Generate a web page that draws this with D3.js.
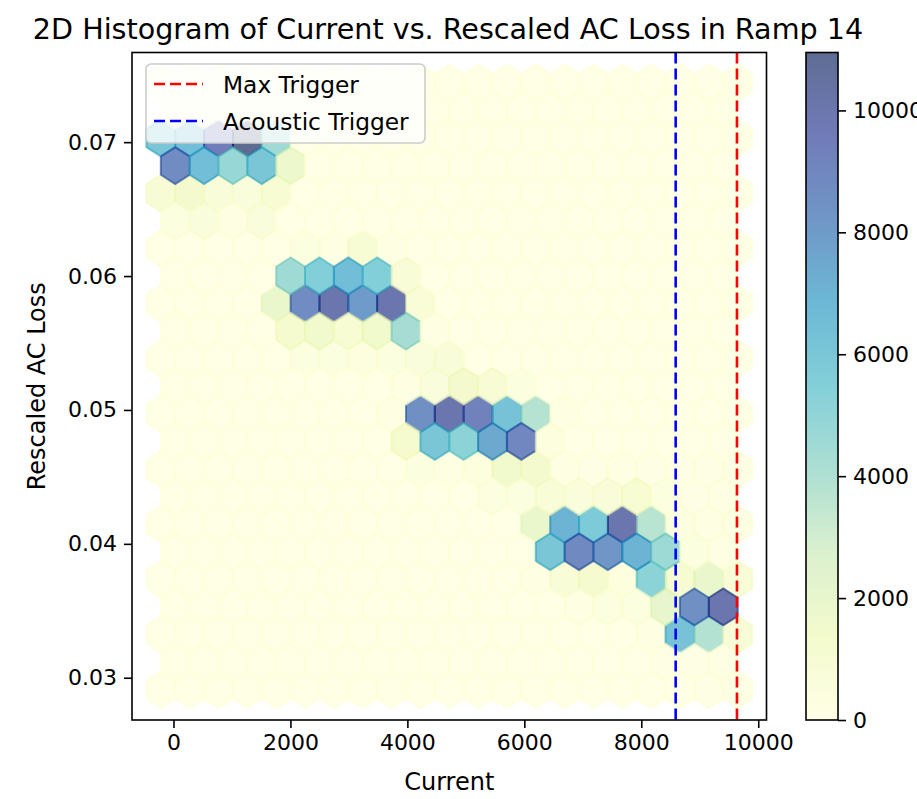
<!DOCTYPE html>
<html>
<head>
<meta charset="utf-8">
<script src="https://cdn.jsdelivr.net/npm/d3@7"></script>
<style>
  body { margin: 0; background: #fff; }
  svg text { font-family: "DejaVu Sans", sans-serif; fill: #000; }
</style>
</head>
<body>
<div id="chart"></div>
<script>
// Hexbin counts, rows listed top to bottom.
// Full lattice: 21 cells per row (x = xmin + i*sx)
const fullRows = [
  [150, 200, 200, 100, 0, 0, 0, 0, 0, 0, 0, 0, 0, 0, 0, 0, 0, 0, 0, 0, 0],
  [6000, 6500, 9500, 10950, 4500, 0, 0, 0, 0, 0, 0, 0, 0, 0, 0, 0, 0, 0, 0, 0, 0],
  [900, 1300, 700, 600, 1000, 0, 0, 0, 0, 0, 0, 0, 0, 0, 0, 0, 0, 0, 0, 0, 0],
  [0, 0, 0, 0, 0, 300, 250, 900, 200, 0, 0, 0, 0, 0, 0, 0, 0, 0, 0, 0, 0],
  [0, 0, 0, 0, 1900, 8700, 10000, 8000, 10000, 800, 0, 0, 0, 0, 0, 0, 0, 0, 0, 0, 0],
  [0, 0, 0, 0, 0, 300, 300, 400, 300, 500, 700, 0, 0, 0, 0, 0, 0, 0, 0, 0, 0],
  [0, 0, 0, 0, 0, 0, 0, 0, 200, 8500, 10000, 9300, 6200, 3800, 200, 0, 0, 0, 0, 0, 0],
  [0, 0, 0, 0, 0, 0, 0, 0, 0, 300, 200, 400, 1500, 1300, 250, 150, 200, 150, 100, 150, 100],
  [0, 0, 0, 0, 0, 0, 0, 0, 0, 0, 0, 0, 0, 1900, 7000, 5800, 10000, 3700, 300, 200, 200],
  [0, 0, 0, 0, 0, 0, 0, 0, 0, 0, 0, 0, 0, 250, 800, 1200, 400, 5200, 1100, 1900, 800],
  [0, 0, 0, 0, 0, 0, 0, 0, 0, 0, 0, 0, 0, 0, 0, 0, 0, 200, 6200, 3900, 850],
  [0, 0, 0, 0, 0, 0, 0, 0, 0, 0, 0, 0, 0, 0, 0, 0, 0, 0, 0, 100, 100]
];
// Offset lattice: 20 cells per row (x = xmin + (i+0.5)*sx)
const halfRows = [
  [500, 400, 400, 300, 0, 0, 0, 0, 0, 0, 0, 0, 0, 0, 0, 0, 0, 0, 0, 0],
  [8700, 6500, 4800, 6000, 1700, 0, 0, 0, 0, 0, 0, 0, 0, 0, 0, 0, 0, 0, 0, 0],
  [300, 500, 200, 500, 0, 0, 0, 0, 0, 0, 0, 0, 0, 0, 0, 0, 0, 0, 0, 0],
  [0, 0, 0, 0, 4500, 5500, 6500, 5500, 800, 0, 0, 0, 0, 0, 0, 0, 0, 0, 0, 0],
  [0, 0, 0, 0, 1200, 1500, 1000, 1500, 4300, 200, 0, 0, 0, 0, 0, 0, 0, 0, 0, 0],
  [0, 0, 0, 0, 0, 0, 0, 0, 200, 600, 1300, 900, 300, 0, 0, 0, 0, 0, 0, 0],
  [0, 0, 0, 0, 0, 0, 0, 0, 1200, 6000, 5200, 7500, 9000, 400, 0, 0, 0, 0, 0, 0],
  [0, 0, 0, 0, 0, 0, 0, 0, 0, 0, 0, 350, 300, 800, 600, 750, 1000, 300, 100, 200],
  [0, 0, 0, 0, 0, 0, 0, 0, 0, 0, 0, 0, 0, 6000, 8800, 8200, 7000, 4600, 300, 200],
  [0, 0, 0, 0, 0, 0, 0, 0, 0, 0, 0, 0, 0, 0, 200, 300, 300, 2000, 8500, 10000],
  [0, 0, 0, 0, 0, 0, 0, 0, 0, 0, 0, 0, 0, 0, 0, 0, 0, 150, 150, 250]
];

const currentExtent = [-216, 9648];
const lossExtent = [0.02911, 0.07443];
const gridSize = 20;

const maxTrigger = 9636;
const acousticTrigger = 8588;

const xTicks = [0, 2000, 4000, 6000, 8000, 10000];
const yTicks = [0.03, 0.04, 0.05, 0.06, 0.07];
const cbTicks = [0, 2000, 4000, 6000, 8000, 10000];

(function () {
  const W = 917, H = 799;
  const ax = { left: 132, top: 52.5, right: 766.5, bottom: 720 };
  const cb = { left: 806, right: 838 };
  const alpha = 0.65;
  const fs = 22;      // tick labels
  const labelFs = 24; // axis labels
  const legendFs = 23.3;

  const svg = d3.select("#chart").append("svg")
    .attr("width", W).attr("height", H);

  // grid geometry, same as matplotlib hexbin
  const nx = gridSize, ny = Math.floor(gridSize / Math.sqrt(3));
  const [xmin, xmax] = currentExtent, [ymin, ymax] = lossExtent;
  const sx = (xmax - xmin) / nx, sy = (ymax - ymin) / ny;
  const mx = 0.05 * (xmax - xmin), my = 0.05 * (ymax - ymin);

  const x = d3.scaleLinear().domain([xmin - mx, xmax + mx]).range([ax.left, ax.right]);
  const y = d3.scaleLinear().domain([ymin - my, ymax + my]).range([ax.bottom, ax.top]);

  const cells = [];
  fullRows.forEach((row, k) => {
    const j = ny - k;
    row.forEach((c, i) => cells.push({ cx: xmin + i * sx, cy: ymin + j * sy, c }));
  });
  halfRows.forEach((row, k) => {
    const j = ny - 1 - k;
    row.forEach((c, i) => cells.push({ cx: xmin + (i + 0.5) * sx, cy: ymin + (j + 0.5) * sy, c }));
  });

  const vmax = d3.max(cells, d => d.c);
  const ylgnbu = ["#ffffd9", "#edf8b1", "#c7e9b4", "#7fcdbb", "#41b6c4", "#1d91c0", "#225ea8", "#253494", "#081d58"];
  const color = d3.scaleLinear()
    .domain(ylgnbu.map((_, i) => i / 8 * vmax))
    .range(ylgnbu)
    .interpolate(d3.interpolateRgb);

  const hexPts = [[.5, -.5], [.5, .5], [0, 1], [-.5, .5], [-.5, -.5], [0, -1]];
  const hexPath = d => "M" + hexPts.map(p =>
    x(d.cx + p[0] * sx) + "," + y(d.cy + p[1] * sy / 3)).join("L") + "Z";

  svg.append("g").selectAll("path")
    .data(cells)
    .enter().append("path")
    .attr("d", hexPath)
    .attr("fill", d => color(d.c))
    .attr("fill-opacity", alpha)
    .attr("stroke", d => color(d.c))
    .attr("stroke-opacity", alpha)
    .attr("stroke-width", 2);

  // trigger lines
  const lines = [
    { v: maxTrigger, col: "red", label: "Max Trigger" },
    { v: acousticTrigger, col: "blue", label: "Acoustic Trigger" }
  ];
  svg.append("g").selectAll("line")
    .data(lines).enter().append("line")
    .attr("x1", d => x(d.v)).attr("x2", d => x(d.v))
    .attr("y1", ax.top).attr("y2", ax.bottom)
    .attr("stroke", d => d.col)
    .attr("stroke-width", 2.6)
    .attr("stroke-dasharray", "11,5");

  // axes
  const xAxis = d3.axisBottom(x).tickValues(xTicks).tickFormat(d3.format("d"))
    .tickSize(8).tickPadding(6).tickSizeOuter(0);
  const yAxis = d3.axisLeft(y).tickValues(yTicks).tickFormat(d3.format(".2f"))
    .tickSize(8).tickPadding(7).tickSizeOuter(0);

  const gx = svg.append("g").attr("transform", `translate(0,${ax.bottom})`).call(xAxis);
  const gy = svg.append("g").attr("transform", `translate(${ax.left},0)`).call(yAxis);
  [gx, gy].forEach(g => {
    g.select(".domain").remove();
    g.selectAll("line").attr("stroke", "#000").attr("stroke-width", 1.6);
    g.selectAll("text").attr("font-size", fs).attr("font-family", "DejaVu Sans");
  });

  svg.append("rect")
    .attr("x", ax.left).attr("y", ax.top)
    .attr("width", ax.right - ax.left).attr("height", ax.bottom - ax.top)
    .attr("fill", "none").attr("stroke", "#000").attr("stroke-width", 1.6);

  svg.append("text")
    .attr("x", (ax.left + ax.right) / 2).attr("y", 790)
    .attr("text-anchor", "middle").attr("font-size", labelFs)
    .text("Current");

  svg.append("text")
    .attr("transform", `translate(45,${(ax.top + ax.bottom) / 2}) rotate(-90)`)
    .attr("text-anchor", "middle").attr("font-size", labelFs)
    .text("Rescaled AC Loss");

  svg.append("text")
    .attr("x", 448).attr("y", 39)
    .attr("text-anchor", "middle").attr("font-size", 28.6)
    .text("2D Histogram of Current vs. Rescaled AC Loss in Ramp 14");

  // legend
  const lg = svg.append("g").attr("transform", "translate(146,64)");
  lg.append("rect")
    .attr("width", 279).attr("height", 79).attr("rx", 5)
    .attr("fill", "#fff").attr("fill-opacity", 0.8)
    .attr("stroke", "#ccc").attr("stroke-width", 1.6);
  lines.forEach((d, k) => {
    const ly = 20 + k * 37;
    lg.append("line")
      .attr("x1", 8).attr("x2", 57).attr("y1", ly).attr("y2", ly)
      .attr("stroke", d.col).attr("stroke-width", 2.6).attr("stroke-dasharray", "11,5");
    lg.append("text")
      .attr("x", 77).attr("y", ly + 8.5).attr("font-size", legendFs)
      .text(d.label);
  });

  // colorbar
  const cy = d3.scaleLinear().domain([0, vmax]).range([ax.bottom, ax.top]);
  const grad = svg.append("defs").append("linearGradient")
    .attr("id", "cbgrad").attr("x1", 0).attr("y1", 1).attr("x2", 0).attr("y2", 0);
  ylgnbu.forEach((c, i) => {
    grad.append("stop").attr("offset", i / 8).attr("stop-color", c).attr("stop-opacity", alpha);
  });
  svg.append("rect")
    .attr("x", cb.left).attr("y", ax.top)
    .attr("width", cb.right - cb.left).attr("height", ax.bottom - ax.top)
    .attr("fill", "url(#cbgrad)")
    .attr("stroke", "#000").attr("stroke-width", 1.6);

  const cAxis = d3.axisRight(cy).tickValues(cbTicks).tickFormat(d3.format("d"))
    .tickSize(8).tickPadding(7).tickSizeOuter(0);
  const gc = svg.append("g").attr("transform", `translate(${cb.right},0)`).call(cAxis);
  gc.select(".domain").remove();
  gc.selectAll("line").attr("stroke", "#000").attr("stroke-width", 1.6);
  gc.selectAll("text").attr("font-size", fs).attr("font-family", "DejaVu Sans");
})();
</script>
</body>
</html>
